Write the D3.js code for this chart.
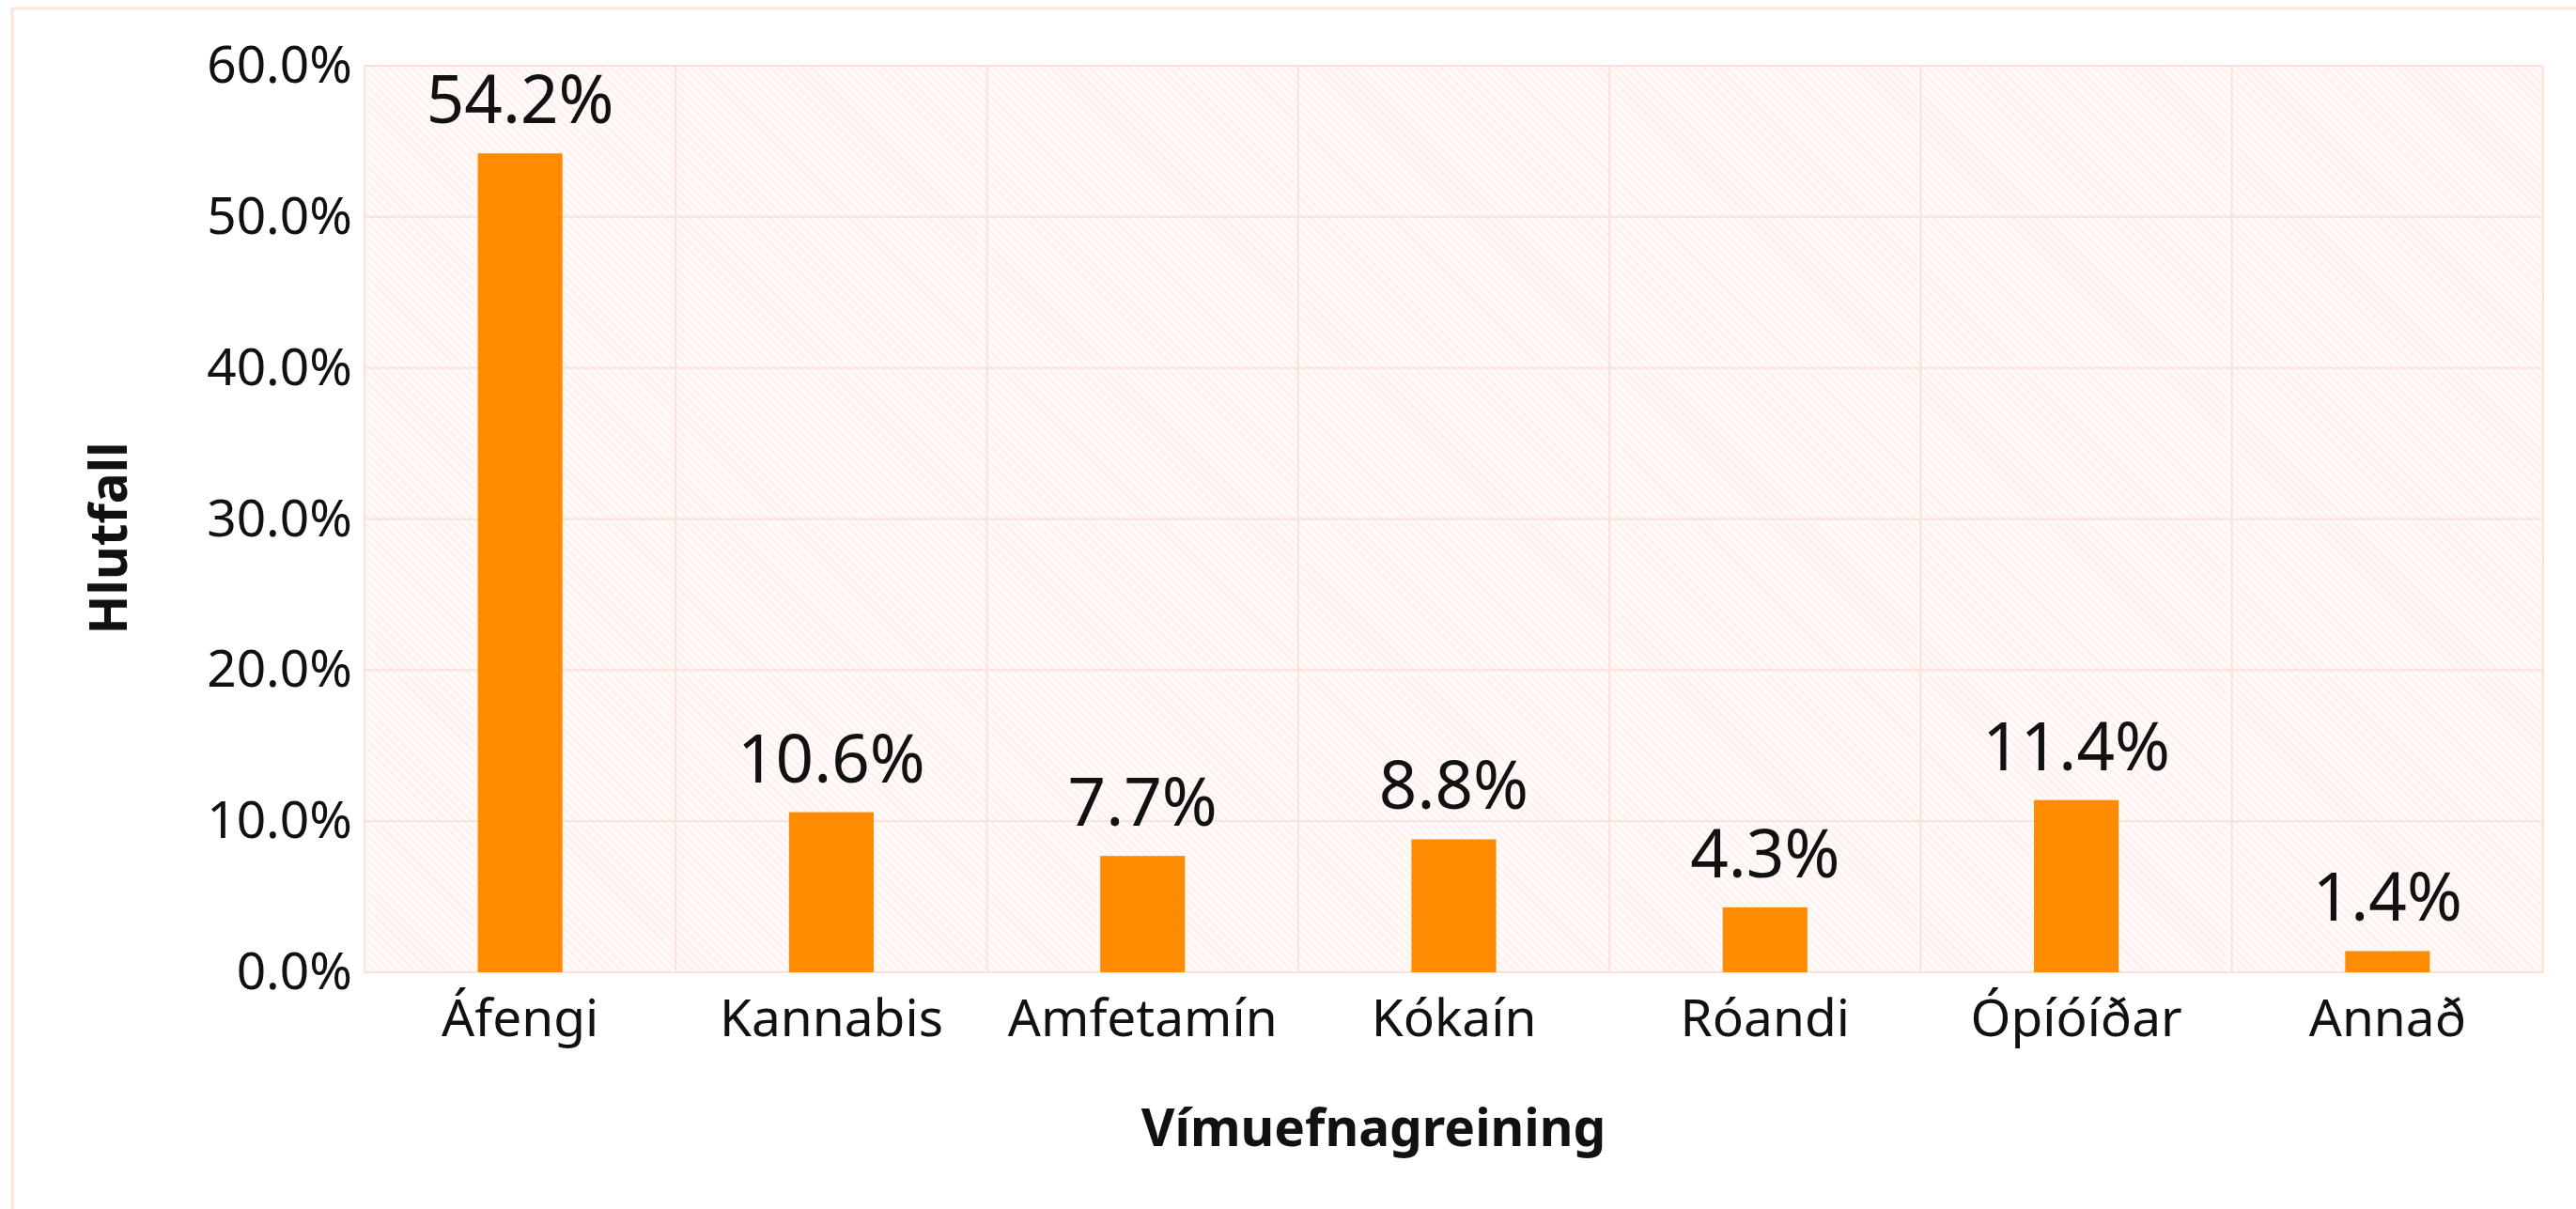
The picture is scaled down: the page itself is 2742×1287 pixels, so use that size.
<!DOCTYPE html>
<html>
<head>
<meta charset="utf-8">
<script src="https://cdn.jsdelivr.net/npm/d3@7"></script>
<style>
  body { margin: 0; background: #fff; }
  svg { display: block; font-family: "Noto Sans", "Open Sans", sans-serif; }
</style>
</head>
<body>
<svg id="chart" width="2742" height="1287"></svg>
<script>
const categories = ['Áfengi', 'Kannabis', 'Amfetamín', 'Kókaín', 'Róandi', 'Ópíóíðar', 'Annað'];
const values = [54.2, 10.6, 7.7, 8.8, 4.3, 11.4, 1.4];
const yTicks = [0, 10, 20, 30, 40, 50, 60];
const xTitle = 'Vímuefnagreining';
const yTitle = 'Hlutfall';

const svg = d3.select('#chart');
const margin = { left: 388, right: 35, top: 70, bottom: 252 };
const width = 2742 - margin.left - margin.right;
const height = 1287 - margin.top - margin.bottom;
const gridColor = '#fde1d9';

// outer panel border
svg.append('rect')
  .attr('x', 13).attr('y', 9)
  .attr('width', 2800).attr('height', 1400)
  .attr('fill', 'none')
  .attr('stroke', '#fde4dd')
  .attr('stroke-width', 3);

const defs = svg.append('defs');
const pat = defs.append('pattern')
  .attr('id', 'hatch')
  .attr('patternUnits', 'userSpaceOnUse')
  .attr('width', 6).attr('height', 6)
  .attr('patternTransform', 'rotate(45)');
pat.append('rect').attr('width', 6).attr('height', 6).attr('fill', '#fffbfa');
pat.append('rect').attr('width', 6).attr('height', 3).attr('fill', '#fef2ee');

const g = svg.append('g').attr('transform', `translate(${margin.left},${margin.top})`);

const x = d3.scaleBand().domain(categories).range([0, width]).padding(0);
const y = d3.scaleLinear().domain([0, 60]).range([height, 0]);

g.append('rect')
  .attr('width', width).attr('height', height)
  .attr('fill', 'url(#hatch)');

// horizontal grid
g.selectAll('.hgrid').data(yTicks).enter().append('line')
  .attr('class', 'hgrid')
  .attr('x1', 0).attr('x2', width)
  .attr('y1', d => y(d)).attr('y2', d => y(d))
  .attr('stroke', gridColor).attr('stroke-width', 2);

// vertical grid at band edges
const edges = categories.map(c => x(c)).concat([width]);
g.selectAll('.vgrid').data(edges).enter().append('line')
  .attr('class', 'vgrid')
  .attr('x1', d => d).attr('x2', d => d)
  .attr('y1', 0).attr('y2', height)
  .attr('stroke', gridColor).attr('stroke-width', 2);

// bars
const barW = x.bandwidth() * 0.272;
g.selectAll('.bar').data(values).enter().append('rect')
  .attr('class', 'bar')
  .attr('x', (d, i) => x(categories[i]) + (x.bandwidth() - barW) / 2)
  .attr('y', d => y(d))
  .attr('width', barW)
  .attr('height', d => height - y(d))
  .attr('fill', '#ff8c00');

// value labels
g.selectAll('.val').data(values).enter().append('text')
  .attr('class', 'val')
  .attr('x', (d, i) => x(categories[i]) + x.bandwidth() / 2)
  .attr('y', d => y(d) - 32)
  .attr('text-anchor', 'middle')
  .attr('font-size', 71)
  .attr('fill', '#111')
  .text(d => d.toFixed(1) + '%');

// axes
const yAxis = g.append('g')
  .call(d3.axisLeft(y).tickValues(yTicks).tickSize(0).tickPadding(13)
    .tickFormat(d => d.toFixed(1) + '%'));
yAxis.select('.domain').remove();
yAxis.selectAll('text').attr('font-size', 55).attr('fill', '#111')
  .style('font-family', '"Noto Sans", sans-serif');

const xAxis = g.append('g')
  .attr('transform', `translate(0,${height})`)
  .call(d3.axisBottom(x).tickSize(0).tickPadding(29));
xAxis.select('.domain').remove();
xAxis.selectAll('text').attr('font-size', 55).attr('fill', '#111')
  .style('font-family', '"Noto Sans", sans-serif');

// axis titles
svg.append('text')
  .attr('x', 1462).attr('y', 1220)
  .attr('text-anchor', 'middle')
  .attr('font-size', 55).attr('font-weight', 'bold')
  .attr('fill', '#111')
  .text(xTitle);

svg.append('text')
  .attr('transform', 'translate(135,573) rotate(-90)')
  .attr('text-anchor', 'middle')
  .attr('font-size', 55).attr('font-weight', 'bold')
  .attr('fill', '#111')
  .text(yTitle);
</script>
</body>
</html>
